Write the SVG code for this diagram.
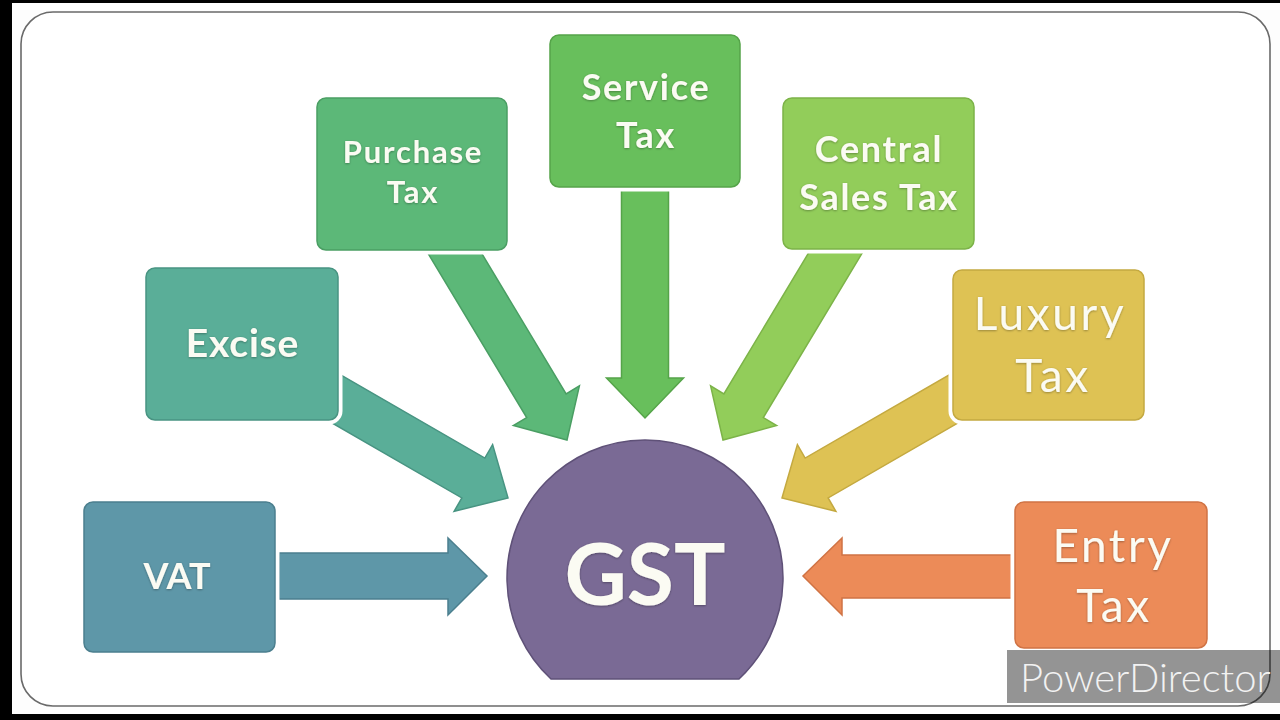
<svg xmlns="http://www.w3.org/2000/svg" width="1280" height="720" viewBox="0 0 1280 720">
<style>
.halo{fill:none;stroke:#ffffff;stroke-width:9}
.box{stroke-width:1.5}
.arr{stroke-width:1.5;stroke-linejoin:miter}
.tb{font-family:Lato,"Liberation Sans",sans-serif;font-weight:700;fill:#fbfbf3;text-anchor:middle}
.tr{font-family:Lato,"Liberation Sans",sans-serif;font-weight:400;fill:#fbfbf3;text-anchor:middle;letter-spacing:2.6px}
</style>
<defs>
<filter id="ts" x="-10%" y="-10%" width="120%" height="120%">
<feDropShadow dx="0" dy="0.8" stdDeviation="0.8" flood-color="#000" flood-opacity="0.35"/>
</filter>
</defs>
<rect x="0" y="0" width="1280" height="720" fill="#000"/>
<rect x="12" y="3" width="1268" height="711" fill="#fdfdfd"/>
<rect x="21" y="12" width="1249" height="694" rx="32" fill="#ffffff" stroke="#6a6a6a" stroke-width="1.6"/>

<g id="connectors">
<polygon class="arr" fill="#5E97A8" stroke="#4b7f8e" points="279,553 448,553 448,538 487,576 448,615 448,599 279,599"/>
<polygon class="arr" fill="#5AAE98" stroke="#489482" transform="translate(508,498) rotate(30)" points="-220,-23 -40,-23 -40,-38.5 0,0 -40,38.5 -40,23 -220,23"/>
<polygon class="arr" fill="#5CB878" stroke="#4a9e63" transform="translate(567,440) rotate(59)" points="-240,-23 -40,-23 -40,-38.5 0,0 -40,38.5 -40,23 -240,23"/>
<polygon class="arr" fill="#68BF5C" stroke="#55a449" transform="translate(645,418) rotate(90)" points="-235,-23.5 -40,-23.5 -40,-38.5 0,0 -40,38.5 -40,23.5 -235,23.5"/>
<polygon class="arr" fill="#92CD5A" stroke="#7cb348" transform="translate(723,440) rotate(121)" points="-240,-23 -40,-23 -40,-38.5 0,0 -40,38.5 -40,23 -240,23"/>
<polygon class="arr" fill="#DEC254" stroke="#c4a940" transform="translate(782,498) rotate(150)" points="-220,-23 -40,-23 -40,-38.5 0,0 -40,38.5 -40,23 -220,23"/>
<polygon class="arr" fill="#EC8B58" stroke="#d07344" points="1012,555 842,555 842,538 803,576 842,615 842,598 1012,598"/>
</g>

<g id="vat">
<rect class="halo" x="84" y="502" width="191" height="150" rx="9"/>
<rect class="box" x="84" y="502" width="191" height="150" rx="9" fill="#5E97A8" stroke="#4b7f8e"/>
<text class="tb" x="177" y="589" font-size="36" filter="url(#ts)">VAT</text>
</g>

<g id="excise">
<rect class="halo" x="146" y="268" width="192" height="152" rx="9"/>
<rect class="box" x="146" y="268" width="192" height="152" rx="9" fill="#5AAE98" stroke="#489482"/>
<text class="tb" x="242.5" y="357" font-size="39" letter-spacing="0.8" filter="url(#ts)">Excise</text>
</g>

<g id="purchase">
<rect class="halo" x="317" y="98" width="190" height="152" rx="9"/>
<rect class="box" x="317" y="98" width="190" height="152" rx="9" fill="#5CB878" stroke="#4a9e63"/>
<text class="tb" x="413" y="163" font-size="31" letter-spacing="1.8" filter="url(#ts)">Purchase</text>
<text class="tb" x="413" y="203" font-size="31" letter-spacing="1.8" filter="url(#ts)">Tax</text>
</g>

<g id="service">
<rect class="halo" x="550" y="35" width="190" height="152" rx="9"/>
<rect class="box" x="550" y="35" width="190" height="152" rx="9" fill="#68BF5C" stroke="#55a449"/>
<text class="tb" x="646" y="100" font-size="36" letter-spacing="1.7" filter="url(#ts)">Service</text>
<text class="tb" x="646" y="148" font-size="36" letter-spacing="1.7" filter="url(#ts)">Tax</text>
</g>

<g id="central">
<rect class="halo" x="783" y="98" width="191" height="151" rx="9"/>
<rect class="box" x="783" y="98" width="191" height="151" rx="9" fill="#92CD5A" stroke="#7cb348"/>
<text class="tb" x="879" y="162" font-size="36" letter-spacing="1.7" filter="url(#ts)">Central</text>
<text class="tb" x="879" y="210" font-size="36" letter-spacing="1.7" filter="url(#ts)">Sales Tax</text>
</g>

<g id="luxury">
<rect class="halo" x="953" y="270" width="191" height="150" rx="9"/>
<rect class="box" x="953" y="270" width="191" height="150" rx="9" fill="#DEC254" stroke="#c4a940"/>
<text class="tr" x="1050" y="330" font-size="46" filter="url(#ts)">Luxury</text>
<text class="tr" x="1053" y="392" font-size="46" filter="url(#ts)">Tax</text>
</g>

<g id="entry">
<rect class="halo" x="1015" y="502" width="192" height="146" rx="9"/>
<rect class="box" x="1015" y="502" width="192" height="146" rx="9" fill="#EC8B58" stroke="#d07344"/>
<text class="tr" x="1113" y="562" font-size="46" filter="url(#ts)">Entry</text>
<text class="tr" x="1114" y="622" font-size="46" filter="url(#ts)">Tax</text>
</g>

<g id="gst">
<path d="M551,679 A138,138 0 1 1 739,679 Z" fill="#7A6A95" stroke="#5f5178" stroke-width="1.5"/>
<text class="tb" x="645" y="605" font-size="86" filter="url(#ts)">GST</text>
</g>

<g id="watermark">
<rect x="1007" y="650" width="273" height="53" fill="#000" fill-opacity="0.42"/>
<text x="1020" y="692" font-family="Lato,'Liberation Sans',sans-serif" font-weight="300" font-size="40" fill="#f2f2f2">PowerDirector</text>
</g>
</svg>
